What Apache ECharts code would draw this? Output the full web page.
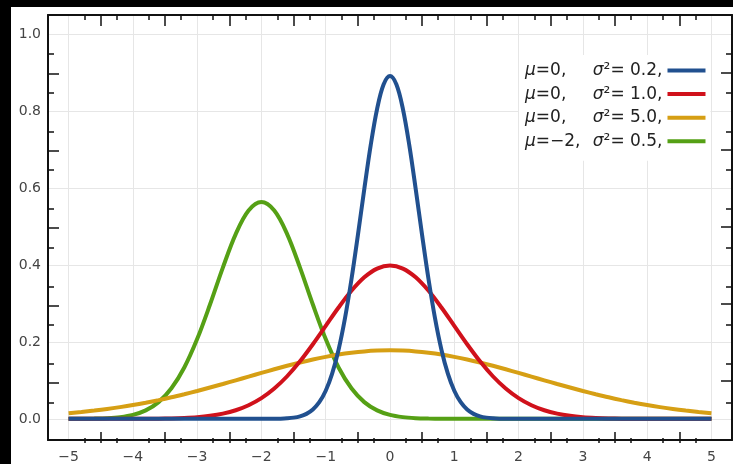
<!DOCTYPE html>
<html>
<head>
<meta charset="utf-8">
<script src="https://cdn.jsdelivr.net/npm/echarts@6/dist/echarts.min.js"></script>
<style>
  html, body { margin: 0; padding: 0; background: #000; }
  #main { position: absolute; left: 11px; top: 7px; width: 722px; height: 457px; background: #fff; }
</style>
</head>
<body>
<div id="main"></div>
<script>
// sample points on the x axis
var xs = [-5, -4.8, -4.6, -4.4, -4.2, -4, -3.8, -3.6, -3.4, -3.2, -3, -2.8, -2.6, -2.4, -2.2,
  -2, -1.8, -1.6, -1.4, -1.2, -1, -0.8, -0.6, -0.4, -0.2, 0, 0.2, 0.4, 0.6, 0.8, 1,
  1.2, 1.4, 1.6, 1.8, 2, 2.2, 2.4, 2.6, 2.8, 3, 3.2, 3.4, 3.6, 3.8, 4, 4.2, 4.4, 4.6, 4.8, 5];

// mu=0, var=0.2 (narrow, so read on a finer step)
var blueXs = [-5, -2, -1.9, -1.8, -1.7, -1.6, -1.5, -1.4, -1.3, -1.2, -1.1, -1, -0.9, -0.8, -0.7,
  -0.6, -0.5, -0.4, -0.3, -0.2, -0.1, 0, 0.1, 0.2, 0.3, 0.4, 0.5, 0.6, 0.7, 0.8, 0.9, 1,
  1.1, 1.2, 1.3, 1.4, 1.5, 1.6, 1.7, 1.8, 1.9, 2, 5];
var blueY = [0, 0, 0.0001, 0.0003, 0.0006, 0.0015, 0.0032, 0.0066, 0.0130, 0.0244, 0.0433,
  0.0732, 0.1177, 0.1800, 0.2621, 0.3627, 0.4775, 0.5979, 0.7123, 0.8071, 0.8700, 0.8921,
  0.8700, 0.8071, 0.7123, 0.5979, 0.4775, 0.3627, 0.2621, 0.1800, 0.1177, 0.0732,
  0.0433, 0.0244, 0.0130, 0.0066, 0.0032, 0.0015, 0.0006, 0.0003, 0.0001, 0, 0];
// mu=0, var=1.0
var redY = [0, 0, 0, 0, 0.0001, 0.0001, 0.0003, 0.0006, 0.0012, 0.0024, 0.0044, 0.0079, 0.0136,
  0.0224, 0.0355, 0.0540, 0.0790, 0.1109, 0.1497, 0.1942, 0.2420, 0.2897, 0.3332, 0.3683, 0.3910,
  0.3989,
  0.3910, 0.3683, 0.3332, 0.2897, 0.2420, 0.1942, 0.1497, 0.1109, 0.0790, 0.0540, 0.0355, 0.0224,
  0.0136, 0.0079, 0.0044, 0.0024, 0.0012, 0.0006, 0.0003, 0.0001, 0.0001, 0, 0, 0, 0];
// mu=0, var=5.0
var yellowY = [0.0146, 0.0178, 0.0215, 0.0257, 0.0306, 0.0360, 0.0421, 0.0488, 0.0561, 0.0641,
  0.0725, 0.0815, 0.0907, 0.1003, 0.1100, 0.1196, 0.1290, 0.1381, 0.1467, 0.1545, 0.1614, 0.1674,
  0.1721, 0.1756, 0.1777, 0.1784,
  0.1777, 0.1756, 0.1721, 0.1674, 0.1614, 0.1545, 0.1467, 0.1381, 0.1290, 0.1196, 0.1100, 0.1003,
  0.0907, 0.0815, 0.0725, 0.0641, 0.0561, 0.0488, 0.0421, 0.0360, 0.0306, 0.0257, 0.0215, 0.0178, 0.0146];
// mu=-2, var=0.5
var greenY = [0.0001, 0.0002, 0.0007, 0.0018, 0.0045, 0.0103, 0.0221, 0.0436, 0.0795, 0.1337,
  0.2076, 0.2975, 0.3936, 0.4808, 0.5421, 0.5642,
  0.5421, 0.4808, 0.3936, 0.2975, 0.2076, 0.1337, 0.0795, 0.0436, 0.0221, 0.0103, 0.0045, 0.0018,
  0.0007, 0.0002, 0.0001,
  0, 0, 0, 0, 0, 0, 0, 0, 0, 0, 0, 0, 0, 0, 0, 0, 0, 0, 0, 0];

var seriesNames = ['v02', 'v10', 'v50', 'm2v05'];
var legendMu = ['0', '0', '0', '\u22122'];
var legendVar = ['0.2', '1.0', '5.0', '0.5'];

var xLabels = [-5, -4, -3, -2, -1, 0, 1, 2, 3, 4, 5];
var xLongTicks = [-4.5, -3.5, -2.5, -1.5, -0.5, 0.5, 1.5, 2.5, 3.5, 4.5];
var xShortTicks = [-4.75, -4.25, -3.75, -3.25, -2.75, -2.25, -1.75, -1.25, -0.75, -0.25,
  0.25, 0.75, 1.25, 1.75, 2.25, 2.75, 3.25, 3.75, 4.25, 4.75];
var yLabels = [0, 0.2, 0.4, 0.6, 0.8, 1.0];
var yLongTicks = [0.1, 0.3, 0.5, 0.7, 0.9];
var yShortTicks = [0.05, 0.15, 0.25, 0.35, 0.45, 0.55, 0.65, 0.75, 0.85, 0.95];

(function () {
  var myChart = echarts.init(document.getElementById('main'));

  var X_MIN = -5.32, X_MAX = 5.32, Y_MIN = -0.055, Y_MAX = 1.051;

  function pairs(xv, ys) {
    return xv.map(function (x, i) { return [x, ys[i]]; });
  }

  function axisLine(show) {
    return { show: show, onZero: false, lineStyle: { color: '#111', width: 2 } };
  }

  // axis that only draws inside tick marks (plus the frame line on top/right)
  function tickAxis(grid, pos, min, max, values, len, line) {
    return {
      type: 'value', gridIndex: grid, position: pos, min: min, max: max,
      axisLine: axisLine(line),
      axisTick: { show: true, inside: true, length: len, customValues: values,
        lineStyle: { color: '#111', width: 1.5 } },
      axisLabel: { show: false },
      splitLine: { show: false }
    };
  }

  var grid = { left: 37, top: 8, right: 1, bottom: 21 };
  var legendFont = { fontFamily: 'DejaVu Sans', fontSize: 17, color: '#222', lineHeight: 20, align: 'left' };

  option = {
    animation: false,
    color: ['#55a015', '#d69f14', '#d0111b', '#21508f'],
    grid: [grid, grid, grid],
    legend: {
      orient: 'vertical',
      left: 508,
      top: 48,
      align: 'right',
      icon: 'rect',
      itemWidth: 38,
      itemHeight: 4,
      itemGap: 6.6,
      padding: [7, 5, 11, 6],
      backgroundColor: '#fff',
      selectedMode: false,
      itemStyle: { borderWidth: 0 },
      data: seriesNames,
      formatter: function (name) {
        var i = seriesNames.indexOf(name);
        return '{i|\u03bc}{a|=' + legendMu[i] + ',}{i|\u03c3}{b|\u00b2= ' + legendVar[i] + ',}';
      },
      textStyle: {
        fontFamily: 'DejaVu Sans', fontSize: 17, color: '#222',
        rich: {
          i: echarts.util.extend({ fontStyle: 'italic' }, legendFont),
          a: echarts.util.extend({ width: 57 }, legendFont),
          b: echarts.util.extend({}, legendFont)
        }
      }
    },
    xAxis: [
      {
        type: 'value', gridIndex: 0, position: 'bottom', min: X_MIN, max: X_MAX,
        axisLine: axisLine(true),
        axisTick: { show: false, customValues: xLabels },
        axisLabel: {
          customValues: xLabels, margin: 10,
          fontFamily: 'DejaVu Sans', fontSize: 14, color: '#444',
          formatter: function (v) { return (v < 0 ? '\u2212' : '') + Math.abs(v); }
        },
        splitLine: { show: true, lineStyle: { color: '#e6e6e6', width: 1 } }
      },
      tickAxis(0, 'top', X_MIN, X_MAX, xLongTicks, 11, true),
      tickAxis(1, 'bottom', X_MIN, X_MAX, xLongTicks, 11, false),
      tickAxis(1, 'top', X_MIN, X_MAX, xShortTicks, 5, false),
      tickAxis(2, 'bottom', X_MIN, X_MAX, xShortTicks, 5, false)
    ],
    yAxis: [
      {
        type: 'value', gridIndex: 0, position: 'left', min: Y_MIN, max: Y_MAX,
        axisLine: axisLine(true),
        axisTick: { show: false, customValues: yLabels },
        axisLabel: {
          customValues: yLabels, margin: 7,
          fontFamily: 'DejaVu Sans', fontSize: 14, color: '#444',
          formatter: function (v) { return v.toFixed(1); }
        },
        splitLine: { show: true, lineStyle: { color: '#e6e6e6', width: 1 } }
      },
      tickAxis(0, 'right', Y_MIN, Y_MAX, yLongTicks, 11, true),
      tickAxis(1, 'left', Y_MIN, Y_MAX, yLongTicks, 11, false),
      tickAxis(1, 'right', Y_MIN, Y_MAX, yShortTicks, 6, false),
      tickAxis(2, 'left', Y_MIN, Y_MAX, yShortTicks, 6, false)
    ],
    series: [
      { name: 'm2v05', type: 'line', data: pairs(xs, greenY) },
      { name: 'v50', type: 'line', data: pairs(xs, yellowY) },
      { name: 'v10', type: 'line', data: pairs(xs, redY) },
      { name: 'v02', type: 'line', data: pairs(blueXs, blueY) }
    ].map(function (s) {
      s.xAxisIndex = 0;
      s.yAxisIndex = 0;
      s.smooth = 0.35;
      s.showSymbol = false;
      s.silent = true;
      s.lineStyle = { width: 4 };
      return s;
    })
  };

  myChart.setOption(option);
})();
</script>
</body>
</html>
